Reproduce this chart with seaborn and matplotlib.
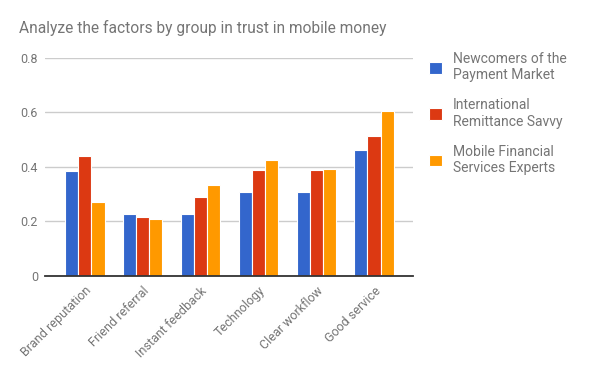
import numpy as np
import pandas as pd
import matplotlib.pyplot as plt
import seaborn as sns

# Values
factors = ["Brand reputation", "Friend referral", "Instant feedback",
           "Technology", "Clear workflow", "Good service"]
newcomers = [0.385, 0.228, 0.228, 0.308, 0.308, 0.462]
remittance = [0.44, 0.217, 0.29, 0.389, 0.389, 0.514]
experts = [0.27, 0.21, 0.334, 0.426, 0.393, 0.605]
groups = ["Newcomers of the\nPayment Market",
          "International\nRemittance Savvy",
          "Mobile Financial\nServices Experts"]
colors = ["#3366cc", "#dc3912", "#ff9900"]

df = pd.DataFrame({
    "factor": factors * 3,
    "value": newcomers + remittance + experts,
    "group": [g for g in groups for _ in factors],
})

sns.set_style("white")
plt.rcParams["font.family"] = ["Roboto", "DejaVu Sans"]
text_gray = "#757575"

fig = plt.figure(figsize=(6, 3.71), dpi=100)
ax = fig.add_axes([0.075, 0.256, 0.613, 0.588])

sns.barplot(data=df, x="factor", y="value", hue="group", palette=colors,
            saturation=1, width=0.68, edgecolor="white", linewidth=0.8,
            ax=ax, legend=True)

ax.set_ylim(0, 0.8)
ax.set_xlim(-0.69, 5.67)
ax.set_yticks([0, 0.2, 0.4, 0.6, 0.8])
ax.set_yticklabels(["0", "0.2", "0.4", "0.6", "0.8"])
ax.yaxis.grid(True, color="#cccccc", linewidth=1)
ax.set_axisbelow(True)
for s in ["top", "right", "left"]:
    ax.spines[s].set_visible(False)
ax.spines["bottom"].set_color("#333333")
ax.spines["bottom"].set_linewidth(1.3)
ax.set_xlabel("")
ax.set_ylabel("")
ax.tick_params(axis="both", length=0, colors=text_gray, labelsize=9)
ax.tick_params(axis="y", pad=5)
ax.tick_params(axis="x", pad=6)
plt.setp(ax.get_xticklabels(), rotation=45, ha="right", rotation_mode="anchor")

handles, labels = ax.get_legend_handles_labels()
ax.legend_.remove()
leg = fig.legend(handles, labels, loc="upper left", bbox_to_anchor=(0.695, 0.893),
                 frameon=False, fontsize=10, labelcolor=text_gray,
                 handlelength=0.9, handleheight=0.9, handletextpad=0.8,
                 labelspacing=1.15)

fig.text(0.031, 0.924, "Analyze the factors by group in trust in mobile money",
         fontsize=11.2, color=text_gray, ha="left", va="center")

fig.savefig("out.png", dpi=100, facecolor="white")
